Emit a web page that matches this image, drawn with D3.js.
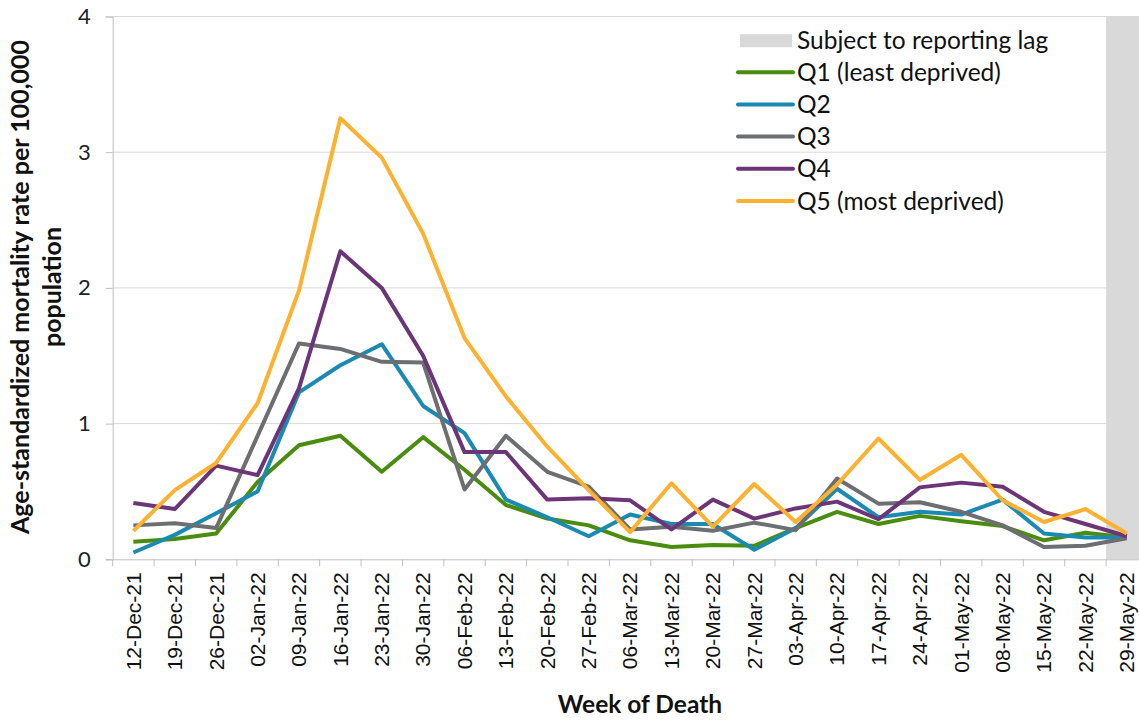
<!DOCTYPE html>
<html>
<head>
<meta charset="utf-8">
<script src="https://cdn.jsdelivr.net/npm/d3@7"></script>
<style>
  body { margin: 0; background: #fff; }
  svg { display: block; }
</style>
</head>
<body>
<svg id="chart" width="1139" height="720"></svg>
<script>
// week categories
var weeks = ["12-Dec-21", "19-Dec-21", "26-Dec-21", "02-Jan-22", "09-Jan-22", "16-Jan-22", "23-Jan-22",
    "30-Jan-22", "06-Feb-22", "13-Feb-22", "20-Feb-22", "27-Feb-22", "06-Mar-22", "13-Mar-22", "20-Mar-22",
    "27-Mar-22", "03-Apr-22", "10-Apr-22", "17-Apr-22", "24-Apr-22", "01-May-22", "08-May-22", "15-May-22",
    "22-May-22", "29-May-22"];

// last week is subject to reporting lag
var lagWeeks = ["29-May-22"];

var q1 = [0.13, 0.15, 0.19, 0.57, 0.84, 0.91, 0.645, 0.90, 0.66, 0.40, 0.30, 0.25, 0.14, 0.09, 0.105,
    0.10, 0.23, 0.35, 0.26, 0.32, 0.28, 0.245, 0.14, 0.195, 0.16];
var q2 = [0.05, 0.18, 0.34, 0.50, 1.23, 1.43, 1.585, 1.13, 0.93, 0.44, 0.31, 0.17, 0.33, 0.26, 0.26,
    0.07, 0.23, 0.52, 0.31, 0.35, 0.33, 0.44, 0.19, 0.16, 0.16];
var q3 = [0.25, 0.265, 0.23, 0.91, 1.59, 1.55, 1.455, 1.45, 0.515, 0.91, 0.645, 0.535, 0.22, 0.24, 0.21,
    0.27, 0.215, 0.595, 0.41, 0.42, 0.35, 0.25, 0.09, 0.10, 0.155];
var q4 = [0.415, 0.37, 0.69, 0.62, 1.26, 2.27, 2.0, 1.50, 0.79, 0.79, 0.44, 0.45, 0.435, 0.22, 0.44,
    0.30, 0.375, 0.425, 0.295, 0.53, 0.565, 0.535, 0.35, 0.26, 0.17];
var q5 = [0.21, 0.51, 0.71, 1.15, 1.98, 3.25, 2.96, 2.40, 1.63, 1.20, 0.83, 0.51, 0.20, 0.56, 0.24,
    0.555, 0.275, 0.55, 0.89, 0.585, 0.77, 0.435, 0.275, 0.37, 0.19];

var seriesNames = ["Q1 (least deprived)", "Q2", "Q3", "Q4", "Q5 (most deprived)"];
var seriesValues = [q1, q2, q3, q4, q5];
var seriesColors = ["#4a8c0e", "#1a8ab3", "#6d6e71", "#6b3578", "#fdb130"];

var yTicks = [0, 1, 2, 3, 4];

var svg = d3.select("#chart");
var plotLeft = 112.7, plotRight = 1147.5, plotTop = 16.5, plotBottom = 559.3;

var x = d3.scaleBand().domain(weeks).range([plotLeft, plotRight]);
var y = d3.scaleLinear().domain([0, 4]).range([plotBottom, plotTop]);

// gridlines
svg.append("g").selectAll("line")
    .data(yTicks.filter(function(d) { return d > 0; }))
    .enter().append("line")
    .attr("x1", plotLeft).attr("x2", plotRight)
    .attr("y1", function(d) { return y(d); })
    .attr("y2", function(d) { return y(d); })
    .attr("stroke", "#d9d9d9")
    .attr("stroke-width", 1);

// reporting lag band
svg.append("g").selectAll("rect")
    .data(lagWeeks)
    .enter().append("rect")
    .attr("x", function(d) { return x(d); })
    .attr("width", x.bandwidth())
    .attr("y", y(4))
    .attr("height", y(0) - y(4))
    .attr("fill", "#d9d9d9");

// y axis
var yAxis = d3.axisLeft(y).tickValues(yTicks).tickFormat(d3.format("d")).tickSize(7).tickPadding(15);
var gy = svg.append("g").attr("transform", "translate(" + plotLeft + ",0)").call(yAxis);
gy.attr("font-size", null).attr("font-family", null);
gy.select(".domain").attr("stroke", "#bfbfbf");
gy.selectAll(".tick line").attr("stroke", "#bfbfbf");
gy.selectAll("text")
    .style("font-family", "Lato, sans-serif")
    .style("font-size", "22px")
    .attr("fill", "#222");

// x axis
var xAxis = d3.axisBottom(x).tickSize(0).tickPadding(0);
var gx = svg.append("g").attr("transform", "translate(0," + plotBottom + ")").call(xAxis);
gx.attr("font-size", null).attr("font-family", null);
gx.select(".domain").attr("stroke", "#bfbfbf").attr("d", "M" + plotLeft + ",0.5H" + plotRight);
gx.selectAll("text")
    .style("font-family", "'Liberation Sans', Arial, sans-serif")
    .style("font-size", "21px")
    .attr("fill", "#111")
    .attr("text-anchor", "end")
    .attr("transform", "rotate(-90)")
    .attr("x", -13)
    .attr("y", 0)
    .attr("dy", "0.35em");

// boundary ticks
svg.append("g").selectAll("line")
    .data(weeks)
    .enter().append("line")
    .attr("x1", function(d) { return x(d); })
    .attr("x2", function(d) { return x(d); })
    .attr("y1", plotBottom)
    .attr("y2", plotBottom + 7)
    .attr("stroke", "#bfbfbf");

// lines
var line = d3.line()
    .x(function(d, i) { return x(weeks[i]) + x.bandwidth() / 2; })
    .y(function(d) { return y(d); });

svg.append("g").selectAll("path")
    .data(seriesValues)
    .enter().append("path")
    .attr("d", line)
    .attr("fill", "none")
    .attr("stroke", function(d, i) { return seriesColors[i]; })
    .attr("stroke-width", 4)
    .attr("stroke-linejoin", "round");

// axis titles
svg.append("text")
    .attr("transform", "translate(29,287) rotate(-90)")
    .attr("text-anchor", "middle")
    .style("font-family", "Lato, sans-serif")
    .style("font-weight", "bold")
    .style("font-size", "25px")
    .attr("fill", "#111")
    .text("Age-standardized mortality rate per 100,000");
svg.append("text")
    .attr("transform", "translate(61,287) rotate(-90)")
    .attr("text-anchor", "middle")
    .style("font-family", "Lato, sans-serif")
    .style("font-weight", "bold")
    .style("font-size", "25px")
    .attr("fill", "#111")
    .text("population");
svg.append("text")
    .attr("x", 640)
    .attr("y", 713)
    .attr("text-anchor", "middle")
    .style("font-family", "Lato, sans-serif")
    .style("font-weight", "bold")
    .style("font-size", "24.5px")
    .attr("fill", "#111")
    .text("Week of Death");

// legend
var legend = svg.append("g").attr("transform", "translate(738,0)");
var rowY = [40.7, 72.2, 104.4, 136.6, 168.8, 201];
legend.append("rect")
    .attr("x", 2).attr("y", rowY[0] - 6.5)
    .attr("width", 52).attr("height", 13)
    .attr("fill", "#d9d9d9");
legend.append("text")
    .attr("x", 59).attr("y", rowY[0])
    .attr("dy", "0.35em")
    .style("font-family", "Lato, sans-serif")
    .style("font-size", "24.5px")
    .attr("fill", "#111")
    .text("Subject to reporting lag");
seriesNames.forEach(function(name, i) {
    var cy = rowY[i + 1];
    legend.append("line")
        .attr("x1", 0).attr("x2", 55)
        .attr("y1", cy).attr("y2", cy)
        .attr("stroke", seriesColors[i])
        .attr("stroke-width", 4)
        .attr("stroke-linecap", "round");
    legend.append("text")
        .attr("x", 59).attr("y", cy)
        .attr("dy", "0.35em")
        .style("font-family", "Lato, sans-serif")
        .style("font-size", "24.5px")
        .attr("fill", "#111")
        .text(name);
});
</script>
</body>
</html>
